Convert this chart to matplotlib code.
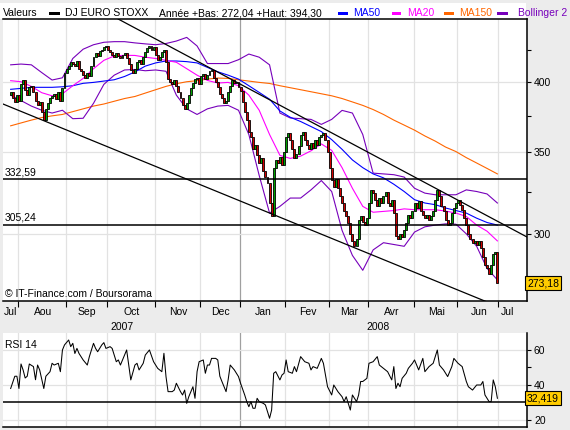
import matplotlib
matplotlib.use("Agg")
import matplotlib.pyplot as plt
from matplotlib.patches import Rectangle
from matplotlib.ticker import FixedLocator, NullFormatter
from matplotlib.transforms import blended_transform_factory as blend

plt.rcParams['font.family'] = ['Liberation Sans', 'DejaVu Sans']
plt.rcParams['font.size'] = 7.5

W, H = 570, 430

# daily closes (trading days, end of Jul 2007 -> end of Jun 2008)
closes = [
    392, 388, 385, 390, 386,            # Jul
    398, 401, 394, 390, 396, 397, 392, 386, 383, 385,
    378, 372, 380, 384, 388, 389, 391, 387, 392, 386,
    395, 407, 410,                      # Aug
    412, 415, 414, 412, 416, 410, 408, 405, 403, 407,
    404, 412, 419, 422, 420, 424, 425, 427, 428, 425,  # Sep
    423, 421, 419, 422, 420, 418, 421, 422, 418, 414,
    409, 407, 410, 415, 417, 414, 419, 423, 426, 428,
    425, 427, 421,                      # Oct
    417, 419, 423, 425, 415, 402, 400, 398, 401, 397,
    392, 388, 383, 380, 384, 390, 395, 399, 402, 403,
    398, 404,                           # Nov
    406, 402, 405, 408, 409, 403, 400, 396, 391, 388,
    384, 386, 392, 397, 401, 399, 400, 396, 393,  # Dec
    385, 378, 372, 364, 360, 352, 355, 348, 343, 346,
    338, 334, 330, 318, 310, 340, 345, 343, 347, 342,
    350, 360,                           # Jan
    363, 358, 352, 346, 349, 354, 362, 364, 358, 355,
    352, 356, 353, 358, 355, 360, 362, 363, 358, 350,
    340,                                # Feb
    332, 328, 333, 327, 322, 318, 313, 310, 306, 300,
    296, 293, 297, 308, 310, 307, 305, 309, 318,  # Mar
    326, 324, 320, 316, 321, 318, 322, 325, 318, 316,
    320, 312, 299, 297, 300, 298, 302, 306, 311, 309,
    313, 318,                           # Apr
    315, 319, 313, 311, 309, 311, 308, 310, 313, 320,
    326, 322, 316, 313, 308, 305, 306, 312, 315, 318,
    320,                                # May
    317, 314, 309, 305, 300, 297, 295, 296, 294, 296,
    292, 287, 283, 281, 278, 283, 289, 290, 273.18,  # Jun
]
first_open = 390

# indicator lines, read every 5 trading days
ind_days = list(range(0, 231, 5)) + [235]
ma20 = [400.8, 400, 396.5, 391.8, 389.5, 391, 397, 402.5, 410, 416.5, 420, 420.5,
        420.4, 419, 418, 416.5, 415, 410, 405, 401, 399, 399.5, 397, 390,
        379, 362, 348, 346, 347.5, 351, 355.6, 351.3, 340, 327, 316, 312.5,
        313, 313.5, 314.5, 314, 314, 314, 313.2, 312, 310, 305, 301.5, 296]
ma50 = [394.3, 395, 395.8, 395.8, 395.8, 396.2, 397, 398.8, 399.5, 400.5, 401.5, 404,
        407.5, 412, 414.5, 416, 416, 415.5, 414.5, 411, 407.6, 405, 402, 397,
        392, 387, 378.5, 374, 371, 367.5, 364, 358.5, 352, 345, 340, 336,
        333.5, 329.5, 325, 320, 318, 317, 315, 313.5, 312, 309, 306.5, 305]
ma150 = [368, 370, 372, 373.8, 375, 376, 378, 380, 382, 383.5, 385.5, 387.5,
         389, 391.5, 394, 396.5, 398.5, 400, 400.8, 402, 402.8, 402.5, 401.5, 400.5,
         399.5, 398.7, 397, 395.5, 394, 392.5, 391, 389.5, 387.5, 385, 382.5, 379.5,
         376, 372, 368.5, 365, 361, 357.5, 353.5, 350.5, 346.5, 343, 339.5, 336]
boll_up = [413, 413.6, 413, 407, 401.3, 403, 418, 425.4, 429, 431, 431.5, 431.5,
           430.5, 429.7, 429, 430, 432, 435, 428, 414, 414, 414, 417, 421.5,
           419, 413, 377, 373.5, 373, 372.5, 369, 372.5, 378.9, 377, 362, 336.5,
           336, 335.5, 334, 327, 324, 323, 323, 323, 326, 325, 323.5, 318]
boll_dn = [390, 386, 382, 379, 377, 379, 373, 373.3, 384, 398, 405, 409,
           409.4, 408.4, 409, 408, 390, 380, 376, 380, 382, 382.5, 379, 362,
           335, 312, 316, 321, 321, 326, 331.8, 325, 302, 288, 280, 291,
           295, 294, 293, 301, 304, 305, 305.7, 305.5, 300, 293, 281, 275]

rsi_days = [0, 2, 3, 4, 5, 6, 7, 8, 9, 11, 12, 13, 14, 16, 17, 19, 20, 21, 23, 24,
            25, 26, 28, 29, 30, 31, 32, 33, 35, 37, 38, 40, 41, 42, 44, 45, 46, 48, 49, 51,
            52, 53, 55, 56, 57, 58, 60, 61, 62, 64, 65, 67, 69, 71, 73, 74, 75, 76, 78, 79,
            80, 82, 83, 84, 85, 86, 88, 89, 90, 91, 93, 94, 95, 96, 97, 99, 100, 101, 102, 104,
            105, 106, 108, 109, 110, 111, 113, 114, 115, 116, 117, 118, 119, 120, 122, 123, 124, 125, 126, 127,
            128, 130, 131, 132, 133, 134, 136, 137, 138, 140, 142, 144, 145, 146, 148, 150, 151, 153, 155, 156,
            158, 160, 161, 162, 164, 165, 167, 168, 169, 170, 172, 173, 175, 177, 178, 180, 182, 184, 185, 186,
            187, 188, 189, 191, 192, 194, 195, 197, 199, 200, 202, 204, 206, 207, 209, 211, 213, 214, 216, 218,
            220, 221, 223, 225, 227, 228, 229, 231, 232, 233, 234, 235]
rsi_vals = [38, 45, 45, 38, 52, 48.6, 44, 45, 52, 50.5, 43, 51.4, 48.6, 38, 45, 47.6, 52.4, 51.4, 52.4, 47.6,
            60, 62.9, 65.7, 61.9, 63.8, 58, 60.9, 58, 54.3, 51.4, 56.2, 63.8, 60.9, 59, 62.9, 64.2, 60.9, 61.9, 60.9, 53.3,
            54.3, 51.4, 57.1, 60, 51.4, 42.9, 51.4, 52.4, 48.6, 52.4, 57.1, 60, 53.3, 49.5, 47.6, 58.1, 44.8, 36.2, 36.2, 37.1,
            41, 36.2, 34.3, 37.1, 29.5, 33.3, 39, 32.4, 47.6, 53.3, 54.3, 46.7, 51.4, 51.4, 55.2, 55.2, 54.3, 45, 42, 36.2,
            42.9, 51.4, 48.6, 46.7, 44.8, 41, 34.3, 30.5, 27.6, 30.5, 26.7, 26.7, 32.4, 30.5, 29.5, 28.6, 24.8, 21, 25.7, 46.7,
            47.6, 42.9, 45.7, 46.7, 54.3, 47.6, 46.7, 50.5, 47.6, 56.2, 53.3, 52.4, 48.6, 50.5, 49.5, 55.2, 52.4, 39, 34.3, 40,
            36.2, 33.3, 30.5, 33.3, 25.7, 34.3, 30.5, 34.3, 42, 42, 43.8, 52.4, 53.3, 56.2, 51.4, 49.5, 47.6, 42.9, 50.5, 38,
            41, 39, 43.8, 46.7, 49.5, 52.4, 54.3, 48.6, 55.2, 47.6, 50.5, 52.4, 60, 51.4, 48.6, 44.8, 50.5, 55.2, 52.4, 50.5,
            42, 39, 37.1, 40, 40, 42, 34.3, 30.5, 30.5, 42.9, 39, 32.419]

# trading-day index of the first day of each month (Aug 2007 .. Jul 2008)
month_starts = [4, 27, 47, 70, 92, 111, 133, 154, 173, 195, 216, 236]
month_names = ['Jul', 'Aou', 'Sep', 'Oct', 'Nov', 'Dec', 'Jan', 'Fev', 'Mar', 'Avr', 'Mai', 'Jun', 'Jul']
year_names = ['2007', '2008']

levels = [332.59, 305.24]
level_labels = ['332,59', '305,24']
trend_hi_days, trend_hi_vals = [51.9, 249.3], [450.4, 298.2]
trend_lo_days, trend_lo_vals = [-3.7, 249.3], [383.5, 255.7]
rsi_level = 30

days = list(range(len(closes)))
opens = [first_open] + closes[:-1]

xlim = (-3.7, 249.3)
grid_c = '#e2e2e2'
year_c = '#a0a0a0'
lw_ind = 0.8

fig = plt.figure(figsize=(W / 100, H / 100), dpi=100, facecolor='#ececec')
fig.add_artist(Rectangle((0, 1 - 19 / H), 526 / W, 16 / H, transform=fig.transFigure,
                         fc='white', ec='none', zorder=-1))

# ---------- price panel ----------
ax = fig.add_axes([3 / W, 1 - 301 / H, 524 / W, 282 / H])
ax.set_yscale('log')
for m in month_starts:
    ax.axvline(m - 0.5, color=year_c if m == month_starts[5] else grid_c, lw=0.9, zorder=0)
for v in [300, 350, 400]:
    ax.axhline(v, color=grid_c, lw=0.9, zorder=0)

ax.plot(ind_days, ma150, color='#ff6600', lw=lw_ind, zorder=2)
ax.plot(ind_days, boll_up, color='#7700bb', lw=lw_ind, zorder=2)
ax.plot(ind_days, boll_dn, color='#7700bb', lw=lw_ind, zorder=2)
ax.plot(ind_days, ma50, color='#0000ff', lw=lw_ind, zorder=2)
ax.plot(ind_days, ma20, color='#ff00ff', lw=lw_ind, zorder=2)

cols = ['#00a000' if c >= o else '#d00000' for o, c in zip(opens, closes)]
bottoms = [min(o, c) for o, c in zip(opens, closes)]
heights = [abs(c - o) for o, c in zip(opens, closes)]
ax.bar(days, heights, bottom=bottoms, width=0.95, color=cols, edgecolor='black',
       linewidth=0.6, zorder=3)

ax.plot(trend_hi_days, trend_hi_vals, color='black', lw=0.9, zorder=4)
ax.plot(trend_lo_days, trend_lo_vals, color='black', lw=0.9, zorder=4)
tr = blend(ax.transAxes, ax.transData)
for lv, lab in zip(levels, level_labels):
    ax.axhline(lv, color='black', lw=1.1, zorder=4)
    ax.text(0.003, lv * 1.004, lab, transform=tr, ha='left', va='bottom', fontsize=7.5)

ax.text(0.004, 0.006, '\u00a9 IT-Finance.com / Boursorama', transform=ax.transAxes,
        ha='left', va='bottom', fontsize=7.5)
ax.text(1.0, closes[-1], '273,18', transform=tr, ha='left', va='center', fontsize=7.5,
        bbox=dict(boxstyle='square,pad=0.18', fc='#ffcc00', ec='black', lw=0.8), zorder=6,
        clip_on=False)

ax.set_xlim(*xlim)
ax.set_ylim(264.2, 450.4)
ax.yaxis.tick_right()
ax.set_yticks([300, 350, 400])
ax.set_yticklabels(['300', '350', '400'])
ax.yaxis.set_minor_locator(FixedLocator([275, 325, 375, 425]))
ax.yaxis.set_minor_formatter(NullFormatter())
ax.tick_params(axis='y', which='both', length=3, width=0.8, pad=2, labelsize=7.5)
ax.set_xticks([m - 0.5 for m in month_starts])
ax.tick_params(axis='x', length=4, width=0.8, labelbottom=False)
ax.spines['left'].set_visible(False)
for s in ['top', 'right', 'bottom']:
    ax.spines[s].set_linewidth(1.1)

# month and year labels
edges = [-4] + month_starts + [244]
xt = blend(ax.transData, fig.transFigure)
for k, name in enumerate(month_names):
    ax.text((edges[k] + edges[k + 1]) / 2, 1 - 312 / H, name, transform=xt,
            ha='center', va='center', fontsize=7.5, clip_on=False)
ax.text((xlim[0] + month_starts[5]) / 2, 1 - 327 / H, year_names[0], transform=xt,
        ha='center', va='center', fontsize=7.5, clip_on=False)
ax.text((month_starts[5] + edges[-1]) / 2, 1 - 327 / H, year_names[1], transform=xt,
        ha='center', va='center', fontsize=7.5, clip_on=False)

# ---------- RSI panel ----------
ax2 = fig.add_axes([3 / W, 1 - 427 / H, 524 / W, 94 / H])
for m in month_starts:
    ax2.axvline(m - 0.5, color=year_c if m == month_starts[5] else grid_c, lw=0.9, zorder=0)
for v in [20, 40, 60]:
    ax2.axhline(v, color=grid_c, lw=0.9, zorder=0)
ax2.axhline(rsi_level, color='black', lw=1.1, zorder=2)
ax2.plot(rsi_days, rsi_vals, color='black', lw=0.75, zorder=3)
ax2.set_xlim(*xlim)
ax2.set_ylim(16, 69.7)
ax2.yaxis.tick_right()
ax2.set_yticks([20, 40, 60])
ax2.set_yticklabels(['20', '40', '60'])
ax2.yaxis.set_minor_locator(FixedLocator([30, 50]))
ax2.yaxis.set_minor_formatter(NullFormatter())
ax2.tick_params(axis='y', which='both', length=3, width=0.8, pad=2, labelsize=7.5)
ax2.set_xticks([])
ax2.spines['left'].set_visible(False)
ax2.spines['top'].set_visible(False)
for s in ['right', 'bottom']:
    ax2.spines[s].set_linewidth(1.1)
ax2.text(0.004, 0.93, 'RSI 14', transform=ax2.transAxes, ha='left', va='top', fontsize=7.5)
tr2 = blend(ax2.transAxes, ax2.transData)
ax2.text(1.0, rsi_vals[-1], '32,419', transform=tr2, ha='left', va='center', fontsize=7.5,
         bbox=dict(boxstyle='square,pad=0.18', fc='#ffcc00', ec='black', lw=0.8),
         clip_on=False)

# ---------- legend bar ----------
ly = 1 - 13.5 / H


def swatch(x0, x1, color):
    fig.add_artist(Rectangle((x0 / W, 1 - 15.3 / H), (x1 - x0) / W, 2.8 / H,
                             transform=fig.transFigure, fc=color, ec='none'))


fig.text(3 / W, ly, 'Valeurs', ha='left', va='center', fontsize=7.5)
swatch(49, 60, 'black')
fig.text(65 / W, ly, 'DJ EURO STOXX', ha='left', va='center', fontsize=7.5)
fig.text(159 / W, ly, 'Ann\u00e9e +Bas: 272,04 +Haut: 394,30', ha='left', va='center', fontsize=7.5)
swatch(338, 348, '#0000ff')
fig.text(353 / W, ly, 'MA50', ha='left', va='center', fontsize=7.5, color='#0000ff')
swatch(392, 401, '#ff00ff')
fig.text(407 / W, ly, 'MA20', ha='left', va='center', fontsize=7.5, color='#ff00ff')
swatch(444, 454, '#ff6600')
fig.text(459 / W, ly, 'MA150', ha='left', va='center', fontsize=7.5, color='#ff6600')
swatch(497, 508, '#7700bb')
fig.text(518 / W, ly, 'Bollinger 2', ha='left', va='center', fontsize=7.5, color='#7700bb')

fig.savefig('out.png', dpi=100, facecolor=fig.get_facecolor())
